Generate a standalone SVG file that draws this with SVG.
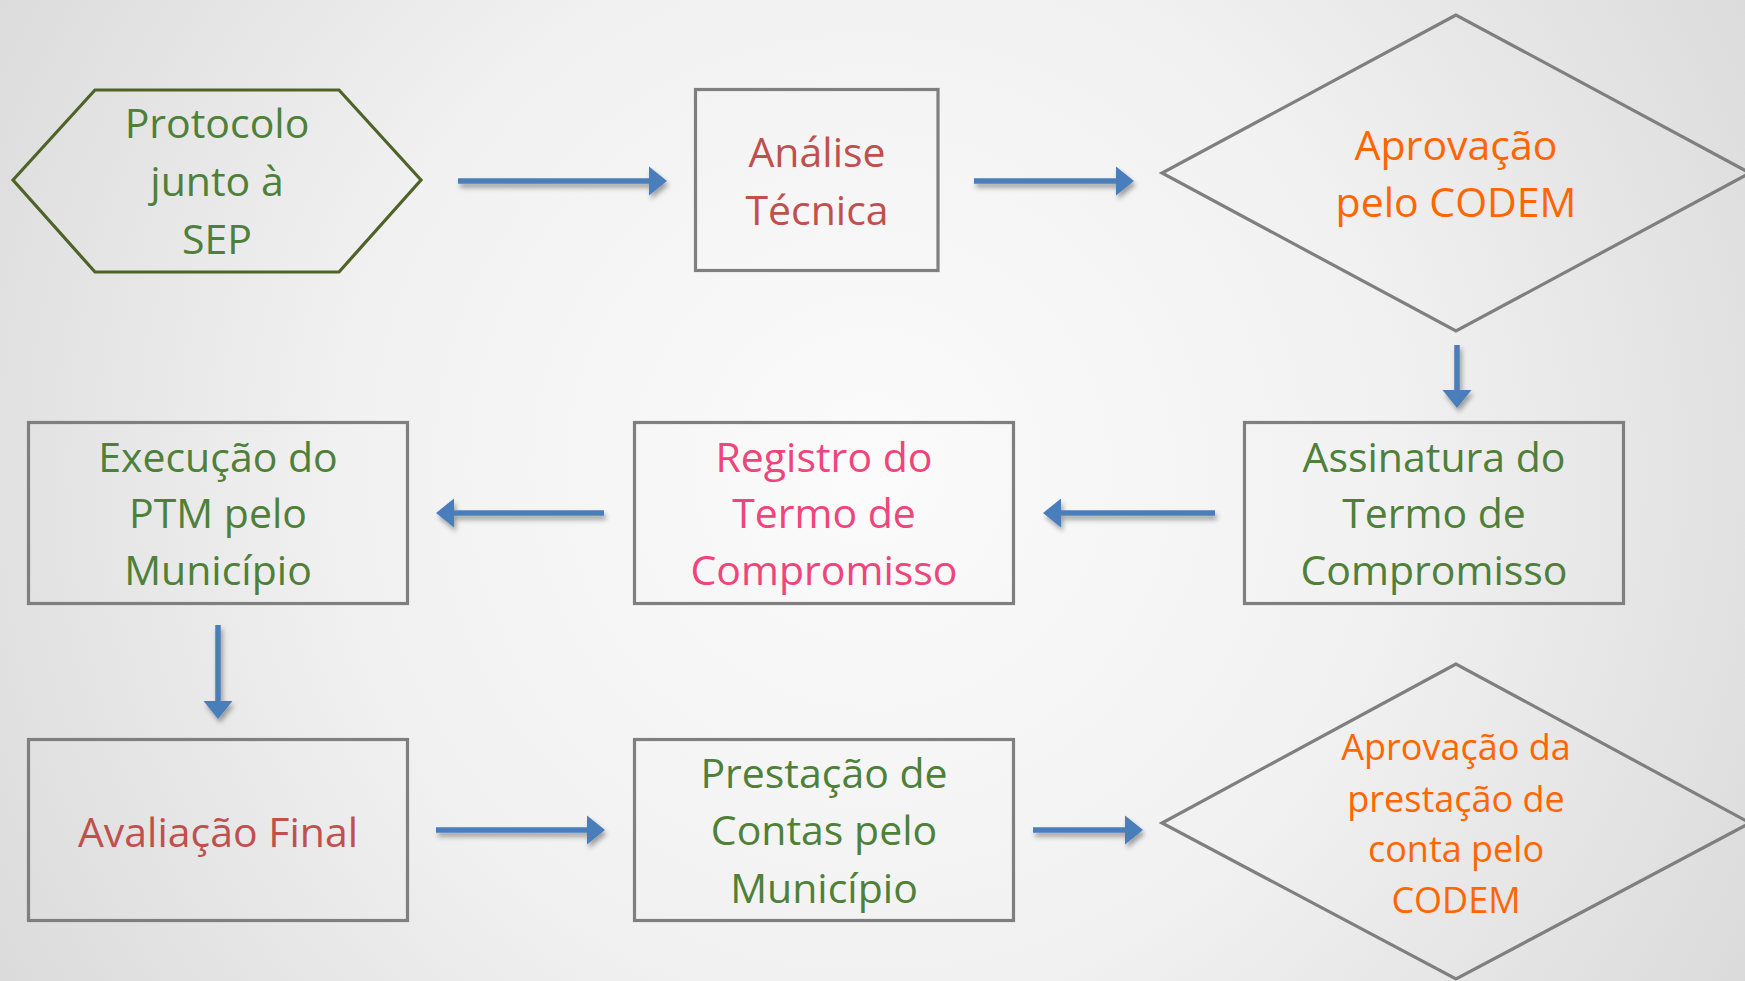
<svg xmlns="http://www.w3.org/2000/svg" width="1745" height="981" viewBox="0 0 1745 981">
  <defs>
    <radialGradient id="bg" cx="870" cy="470" r="1050" gradientUnits="userSpaceOnUse">
      <stop offset="0" stop-color="#fbfbfb"/>
      <stop offset="0.5" stop-color="#f1f1f1"/>
      <stop offset="1" stop-color="#d9d9d9"/>
    </radialGradient>
    <filter id="shadow" x="-20%" y="-50%" width="140%" height="200%">
      <feDropShadow dx="2" dy="4" stdDeviation="2.5" flood-color="#000" flood-opacity="0.35"/>
    </filter>
    <marker id="head" markerUnits="userSpaceOnUse" markerWidth="20" markerHeight="30" refX="0" refY="15" orient="auto" overflow="visible">
      <path d="M0,0.5 L18,15 L0,29.5 Z" fill="#4a7ebb"/>
    </marker>
  </defs>
  <style>
    .box { fill: none; stroke: #7f7f7f; stroke-width: 3.2; }
    .hex { fill: none; stroke: #4f6228; stroke-width: 3.2; }
    .conn { fill: none; stroke: #4a7ebb; stroke-width: 5.5; marker-end: url(#head); }
    text { font-family: "Open Sans", "Noto Sans", "Liberation Sans", sans-serif; font-size: 41px; text-anchor: middle; }
    .green { fill: #4e803a; }
    .red { fill: #c0504d; }
    .pink { fill: #f0457a; }
    .orange { fill: #ff6600; }
    .small { font-size: 36px; }
  </style>
  <rect x="0" y="0" width="1745" height="981" fill="url(#bg)"/>

  <g id="connectors" filter="url(#shadow)">
    <line class="conn" x1="458" y1="181" x2="649" y2="181"/>
    <line class="conn" x1="974" y1="181" x2="1116" y2="181"/>
    <line class="conn" x1="1457" y1="345" x2="1457" y2="390"/>
    <line class="conn" x1="1215" y1="513" x2="1061" y2="513"/>
    <line class="conn" x1="604" y1="513" x2="454" y2="513"/>
    <line class="conn" x1="218" y1="625" x2="218" y2="701"/>
    <line class="conn" x1="436" y1="830" x2="587" y2="830"/>
    <line class="conn" x1="1033" y1="830" x2="1125" y2="830"/>
  </g>

  <g id="node-protocolo">
    <polygon class="hex" points="13,180 95,90 339,90 421,180 339,272 95,272"/>
    <text class="green" x="217" y="138">Protocolo</text>
    <text class="green" x="217" y="196">junto à</text>
    <text class="green" x="217" y="254">SEP</text>
  </g>

  <g id="node-analise">
    <rect class="box" x="695.5" y="89.5" width="242.5" height="181"/>
    <text class="red" x="817" y="167">Análise</text>
    <text class="red" x="817" y="225">Técnica</text>
  </g>

  <g id="node-aprovacao">
    <polygon class="box" points="1456,15 1162,173 1456,331 1750,173"/>
    <text class="orange" x="1456" y="160">Aprovação</text>
    <text class="orange" x="1456" y="217">pelo CODEM</text>
  </g>

  <g id="node-assinatura">
    <rect class="box" x="1244.5" y="422.5" width="379" height="181"/>
    <text class="green" x="1434" y="472">Assinatura do</text>
    <text class="green" x="1434" y="528">Termo de</text>
    <text class="green" x="1434" y="585">Compromisso</text>
  </g>

  <g id="node-registro">
    <rect class="box" x="634.5" y="422.5" width="379" height="181"/>
    <text class="pink" x="824" y="472">Registro do</text>
    <text class="pink" x="824" y="528">Termo de</text>
    <text class="pink" x="824" y="585">Compromisso</text>
  </g>

  <g id="node-execucao">
    <rect class="box" x="28.5" y="422.5" width="379" height="181"/>
    <text class="green" x="218" y="472">Execução do</text>
    <text class="green" x="218" y="528">PTM pelo</text>
    <text class="green" x="218" y="585">Município</text>
  </g>

  <g id="node-avaliacao">
    <rect class="box" x="28.5" y="739.5" width="379" height="181"/>
    <text class="red" x="218" y="847">Avaliação Final</text>
  </g>

  <g id="node-prestacao">
    <rect class="box" x="634.5" y="739.5" width="379" height="181"/>
    <text class="green" x="824" y="788">Prestação de</text>
    <text class="green" x="824" y="845">Contas pelo</text>
    <text class="green" x="824" y="903">Município</text>
  </g>

  <g id="node-aprovacao-contas">
    <polygon class="box" points="1456,664 1162,823 1456,979 1750,823"/>
    <text class="orange small" x="1456" y="760">Aprovação da</text>
    <text class="orange small" x="1456" y="812">prestação de</text>
    <text class="orange small" x="1456" y="862">conta pelo</text>
    <text class="orange small" x="1456" y="913">CODEM</text>
  </g>
</svg>
